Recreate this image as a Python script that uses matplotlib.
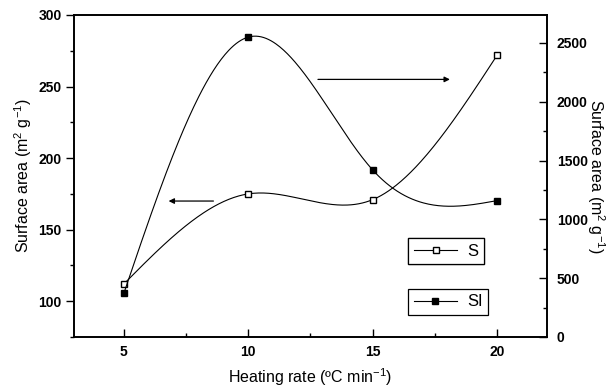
import numpy as np
import matplotlib
matplotlib.use("Agg")
import matplotlib.pyplot as plt
from matplotlib.ticker import MultipleLocator
from matplotlib.lines import Line2D

plt.rcParams['font.family'] = ['Liberation Sans', 'DejaVu Sans']
plt.rcParams['mathtext.fontset'] = 'custom'
plt.rcParams['mathtext.rm'] = 'Liberation Sans'
plt.rcParams['mathtext.it'] = 'Liberation Sans'

heating_rate = [5, 10, 15, 20]
s_area = [112, 175, 171, 272]        # S, left axis
si_area = [370, 2550, 1420, 1160]    # SI, right axis


def natural_spline(x, y, xs):
    x = np.asarray(x, float); y = np.asarray(y, float)
    n = len(x)
    h = np.diff(x)
    A = np.zeros((n, n)); b = np.zeros(n)
    A[0, 0] = 1; A[-1, -1] = 1
    for i in range(1, n - 1):
        A[i, i - 1] = h[i - 1]
        A[i, i] = 2 * (h[i - 1] + h[i])
        A[i, i + 1] = h[i]
        b[i] = 6 * ((y[i + 1] - y[i]) / h[i] - (y[i] - y[i - 1]) / h[i - 1])
    M = np.linalg.solve(A, b)
    out = np.empty_like(xs, dtype=float)
    for k, xv in enumerate(xs):
        i = min(max(np.searchsorted(x, xv) - 1, 0), n - 2)
        t1 = x[i + 1] - xv; t0 = xv - x[i]
        out[k] = (M[i] * t1 ** 3 + M[i + 1] * t0 ** 3) / (6 * h[i]) \
            + (y[i] / h[i] - M[i] * h[i] / 6) * t1 \
            + (y[i + 1] / h[i] - M[i + 1] * h[i] / 6) * t0
    return out


fig = plt.figure(figsize=(6.13, 3.87), dpi=100)
ax = fig.add_axes([74 / 613, 50 / 387, 473 / 613, 322 / 387])
ax2 = ax.twinx()

xs = np.linspace(heating_rate[0], heating_rate[-1], 300)
ax.plot(xs, natural_spline(heating_rate, s_area, xs), color='black', lw=0.8)
ax.plot(heating_rate, s_area, ls='none', marker='s', ms=5, mfc='white',
        mec='black', mew=1.0, zorder=5)
ax2.plot(xs, natural_spline(heating_rate, si_area, xs), color='black', lw=0.8)
ax2.plot(heating_rate, si_area, ls='none', marker='s', ms=5, mfc='black',
         mec='black', zorder=5)

ax.set_xlim(3, 22)
ax.set_ylim(75, 300)
ax2.set_ylim(0, 2738)

ax.xaxis.set_major_locator(MultipleLocator(5))
ax.xaxis.set_minor_locator(MultipleLocator(2.5))
ax.yaxis.set_major_locator(MultipleLocator(50))
ax.yaxis.set_minor_locator(MultipleLocator(25))
ax2.yaxis.set_major_locator(MultipleLocator(500))
ax2.yaxis.set_minor_locator(MultipleLocator(250))

ax.tick_params(axis='x', which='major', direction='in', length=6, width=1,
               labelsize=10, pad=6, top=False)
ax.tick_params(axis='x', which='minor', direction='in', length=3, width=1, top=False)
ax.tick_params(axis='y', which='major', direction='out', length=6, width=1,
               labelsize=10, pad=3)
ax.tick_params(axis='y', which='minor', direction='out', length=3, width=1)
ax2.tick_params(axis='y', which='major', direction='in', length=6, width=1,
                labelsize=10, pad=7)
ax2.tick_params(axis='y', which='minor', direction='in', length=3, width=1)
for lab in ax.get_xticklabels() + ax.get_yticklabels() + ax2.get_yticklabels():
    lab.set_fontweight('bold')

for a in (ax, ax2):
    for sp in a.spines.values():
        sp.set_linewidth(1.2)

ax.set_xlabel('Heating rate (ºC min$^{-1}$)', fontsize=11.5, labelpad=5)
ax.set_ylabel('Surface area (m$^{2}$ g$^{-1}$)', fontsize=11.5, labelpad=3)
ax2.set_ylabel('Surface area (m$^{2}$ g$^{-1}$)', fontsize=11.5, rotation=270,
               labelpad=14)

# arrows
ax.annotate('', xy=(6.8, 170), xytext=(8.6, 170),
            arrowprops=dict(arrowstyle='-|>', color='black', lw=0.9,
                            mutation_scale=8, shrinkA=0, shrinkB=0))
ax.annotate('', xy=(18.1, 255), xytext=(12.8, 255),
            arrowprops=dict(arrowstyle='-|>', color='black', lw=0.9,
                            mutation_scale=8, shrinkA=0, shrinkB=0))

# legends (two separate boxes)
h_s = Line2D([], [], color='black', lw=0.8, marker='s', ms=4, mfc='white', mec='black')
h_si = Line2D([], [], color='black', lw=0.8, marker='s', ms=4, mfc='black', mec='black')
leg_kw = dict(frameon=True, fancybox=False, edgecolor='black', framealpha=1,
              fontsize=12, handlelength=2.6, handletextpad=0.6, borderpad=0.35,
              borderaxespad=0)
leg1 = ax.legend([h_s], ['S'], loc='center',
                 bbox_to_anchor=(446 / 613, 1 - 251 / 387),
                 bbox_transform=fig.transFigure, **leg_kw)
leg1.get_frame().set_linewidth(0.9)
ax.add_artist(leg1)
leg2 = ax2.legend([h_si], ['SI'], loc='center',
                  bbox_to_anchor=(448 / 613, 1 - 302 / 387),
                  bbox_transform=fig.transFigure, **leg_kw)
leg2.get_frame().set_linewidth(0.9)

fig.savefig('out.png', dpi=100)
